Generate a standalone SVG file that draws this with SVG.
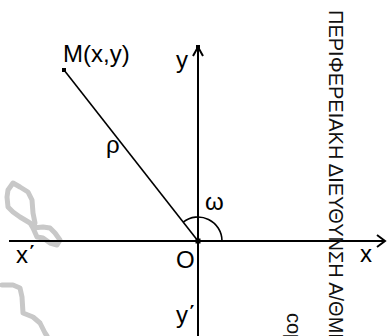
<svg xmlns="http://www.w3.org/2000/svg" width="387" height="336" viewBox="0 0 387 336">
<style>
.lbl{font-family:"Liberation Sans",Arial,sans-serif;font-size:24px;fill:#000}
.vt{font-family:"Liberation Sans",Arial,sans-serif;font-size:20px;fill:#111}
.ax{stroke:#000;stroke-width:2;fill:none}
.ln{stroke:#000;stroke-width:1.6;fill:none}
.blot{stroke:#c8c8c8;stroke-width:5;fill:none;stroke-linejoin:round;stroke-linecap:round}
</style>
<rect width="387" height="336" fill="#fff"/>
<g id="watermark">
<path class="blot" d="M13,183 L20,187 L28,192 L32,200 L33,213 L35,223 L33,228 L43,227 L50,228 L55,233 L60,240 L57,245 L50,243 L43,238 L37,237 L33,228 L30,223 L20,217 L13,212 L8,207 L7,197 L8,190 Z"/>
<path class="blot" d="M2,285 L13,285 L20,288 L22,297 L23,313 L33,317 L40,323 L45,333 L47,336"/>
</g>
<g id="connectors">
<line class="ax" x1="9" y1="241" x2="384" y2="241"/>
<polyline class="ax" points="377,235 385,241 377,247"/>
<line class="ax" x1="198" y1="48" x2="198" y2="336"/>
<polyline class="ax" points="193,56 198,47 203,56"/>
<rect x="196" y="45" width="4" height="4" fill="#000"/>
<line class="ln" x1="64" y1="70" x2="198" y2="241"/>
<path class="ln" d="M222,241 A24,24 0 0 0 183.2,222.1"/>
</g>
<g id="origin">
<rect x="195.5" y="238.5" width="5" height="5" fill="#000"/>
<text class="lbl" x="176" y="268">O</text>
</g>
<g id="M">
<rect x="62" y="68" width="4" height="4" fill="#000"/>
<text class="lbl" x="63" y="62">M(x,y)</text>
</g>
<g id="labels">
<text class="lbl" x="176" y="67.5">y</text>
<text class="lbl" x="106" y="152.5">ρ</text>
<text class="lbl" x="205" y="210">ω</text>
<text class="lbl" x="16" y="263">x΄</text>
<text class="lbl" x="176" y="323">y΄</text>
<text class="lbl" x="360" y="261.5">x</text>
</g>
<g id="sidetext">
<text class="vt" transform="translate(329,10) rotate(90)">ΠΕΡΙΦΕΡΕΙΑΚΗ ΔΙΕΥΘΥΝΣΗ Α/ΘΜΙΑ</text>
<text class="vt" transform="translate(287,313) rotate(90)">cop</text>
</g>
</svg>
